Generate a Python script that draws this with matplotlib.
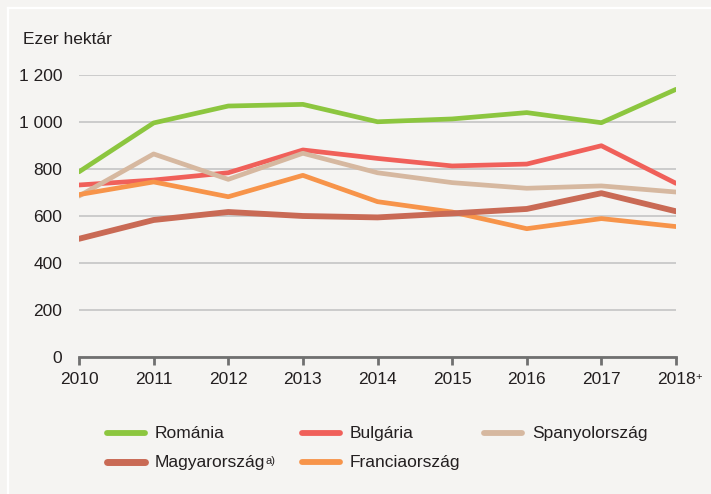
import matplotlib.pyplot as plt
from matplotlib.lines import Line2D

plt.rcParams['font.family'] = ['Liberation Sans', 'DejaVu Sans']

# ---------------------------------------------------------------- data
years = [2010, 2011, 2012, 2013, 2014, 2015, 2016, 2017, 2018]
year_labels = ['2010', '2011', '2012', '2013', '2014', '2015', '2016', '2017', '2018']

romania = [788, 996, 1068, 1075, 1001, 1013, 1040, 997, 1139]
bulgaria = [732, 753, 784, 881, 845, 813, 821, 899, 739]
spanyol = [685, 864, 756, 867, 784, 742, 718, 728, 702]
magyar = [503, 583, 617, 600, 594, 611, 630, 697, 620]
francia = [691, 745, 682, 773, 661, 617, 546, 589, 555]

yticks = [0, 200, 400, 600, 800, 1000, 1200]
ytick_labels = ['0', '200', '400', '600', '800', '1 000', '1 200']

# ---------------------------------------------------------------- style
bg = '#f5f4f2'
txt = '#231f20'
series = [
    ('Románia', romania, '#8cc63f', 3.4),
    ('Bulgária', bulgaria, '#f0605a', 3.4),
    ('Spanyolország', spanyol, '#d6b8a0', 3.4),
    ('Franciaország', francia, '#f7944a', 3.4),
    ('Magyarország', magyar, '#c96a55', 4.2),
]

W, H = 711, 494
fig = plt.figure(figsize=(W / 100, H / 100), dpi=100, facecolor=bg)
ax = fig.add_axes([79 / W, 1 - 357 / H, (676 - 79) / W, (357 - 75) / H])
ax.set_facecolor(bg)

for name, vals, col, lw in series:
    ax.plot(years, vals, color=col, lw=lw, solid_capstyle='round',
            solid_joinstyle='round', zorder=3)

ax.set_xlim(2010, 2018)
ax.set_ylim(0, 1200)
ax.set_yticks(yticks)
ax.set_yticklabels(ytick_labels)
ax.set_xticks(years)
ax.set_xticklabels(year_labels)
ax.yaxis.grid(True, color='#c8c8c8', lw=1.3, zorder=0)
for s in ['top', 'right', 'left']:
    ax.spines[s].set_visible(False)
ax.spines['bottom'].set_color('#707070')
ax.spines['bottom'].set_linewidth(2)
ax.spines['bottom'].set_zorder(4)
ax.tick_params(axis='y', length=0, pad=12, labelsize=12.5, labelcolor=txt)
ax.tick_params(axis='x', length=6, width=2, color='#707070', pad=5,
               labelsize=12.5, labelcolor=txt)

# superscript "+" on the last year (preliminary data)
last_lbl = ax.get_xticklabels()[-1]
ax.annotate('+', xy=(1, 1), xycoords=last_lbl, xytext=(0.3, 0),
            textcoords='offset points', fontsize=8, color=txt,
            ha='left', va='top', annotation_clip=False)

fig.text(23 / W, 1 - 40 / H, 'Ezer hektár', fontsize=12.5, color=txt,
         va='center', ha='left')

# ---------------------------------------------------------------- legend
leg_pos = {
    'Románia': (105, 433),
    'Bulgária': (300, 433),
    'Spanyolország': (482, 433),
    'Magyarország': (105, 462),
    'Franciaország': (300, 462),
}
for name, vals, col, lw in series:
    x0, y0 = leg_pos[name]
    fy = 1 - y0 / H
    fig.add_artist(Line2D([(x0 + 2) / W, (x0 + 40) / W], [fy, fy], color=col,
                          lw=lw + 0.8, solid_capstyle='round'))
    t = fig.text((x0 + 50) / W, fy, name, fontsize=12.5, color=txt,
                 va='center', ha='left')
    if name == 'Magyarország':
        ax.annotate('a)', xy=(1, 0.92), xycoords=t, xytext=(0, 0),
                    textcoords='offset points', fontsize=8, color=txt,
                    ha='left', va='top', annotation_clip=False)

# white frame lines (top and left)
fig.add_artist(Line2D([8 / W, 1], [1 - 8 / H, 1 - 8 / H], color='white', lw=1.6))
fig.add_artist(Line2D([8 / W, 8 / W], [0, 1 - 8 / H], color='white', lw=1.6))

fig.savefig('out.png', dpi=100, facecolor=bg)
